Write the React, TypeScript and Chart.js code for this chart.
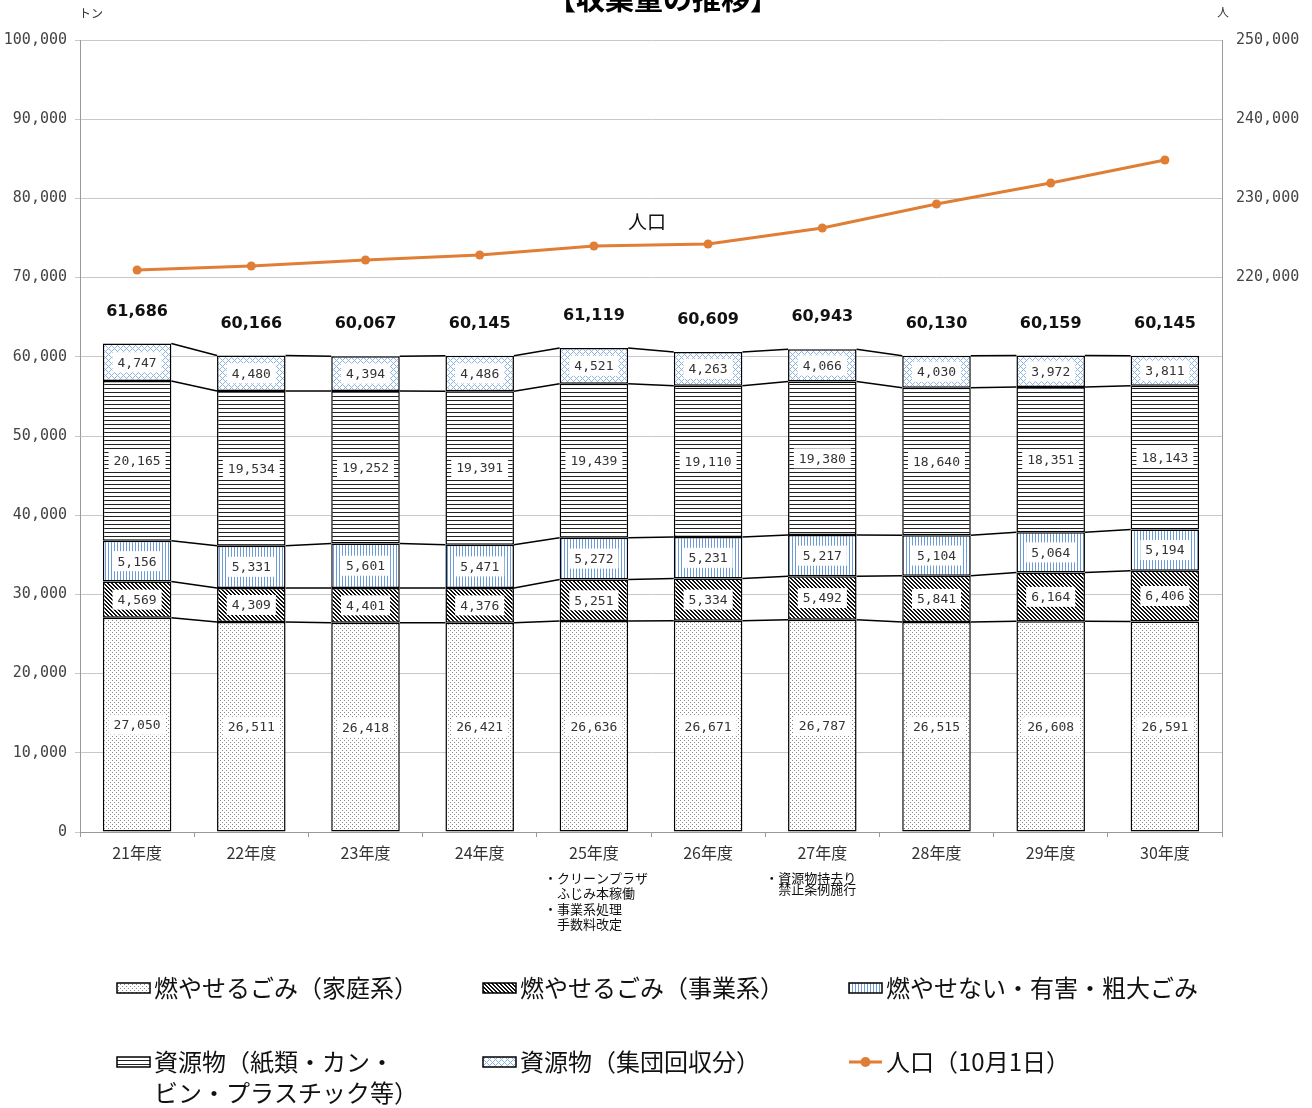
import React, { useEffect, useRef } from "react";
import { Chart, registerables } from "chart.js";

Chart.register(...registerables);

const categories = ["21年度", "22年度", "23年度", "24年度", "25年度", "26年度", "27年度", "28年度", "29年度", "30年度"];
const household = [27050, 26511, 26418, 26421, 26636, 26671, 26787, 26515, 26608, 26591];
const business = [4569, 4309, 4401, 4376, 5251, 5334, 5492, 5841, 6164, 6406];
const nonBurnable = [5156, 5331, 5601, 5471, 5272, 5231, 5217, 5104, 5064, 5194];
const recyclables = [20165, 19534, 19252, 19391, 19439, 19110, 19380, 18640, 18351, 18143];
const groupCollection = [4747, 4480, 4394, 4486, 4521, 4263, 4066, 4030, 3972, 3811];
const totals = [61686, 60166, 60067, 60145, 61119, 60609, 60943, 60130, 60159, 60145];
const population = [220960, 221470, 222220, 222850, 223990, 224240, 226260, 229290, 231940, 234850];

const seriesNames = [
  ["燃やせるごみ（家庭系）"],
  ["燃やせるごみ（事業系）"],
  ["燃やせない・有害・粗大ごみ"],
  ["資源物（紙類・カン・", "ビン・プラスチック等）"],
  ["資源物（集団回収分）"],
  ["人口（10月1日）"],
];
const seriesData = [household, business, nonBurnable, recyclables, groupCollection];
const patternKinds = ["dots", "diag", "vstripe", "hline", "cross"];

const annotations = [
  { index: 4, lines: ["・クリーンプラザ", "　ふじみ本稼働", "・事業系処理", "　手数料改定"], lineHeight: 15.5, dx: -50 },
  { index: 6, lines: ["・資源物持去り", "　禁止条例施行"], lineHeight: 11.5, dx: -57 },
];

const TITLE = "【収集量の推移】";
const ORANGE = "#E07E35";
const JP = '"Noto Sans CJK JP", "Noto Sans", sans-serif';
const MONO = '"DejaVu Sans Mono", monospace';

const fmt = (v: number) => Math.round(v).toLocaleString("en-US");

function makePattern(kind: string): CanvasPattern | string {
  const c = document.createElement("canvas");
  const x = c.getContext("2d");
  if (!x) return "#fff";
  const px = (a: number, b: number) => x.fillRect(a, b, 1, 1);
  if (kind === "dots") {
    c.width = 4; c.height = 4;
    x.fillStyle = "#fff"; x.fillRect(0, 0, 4, 4);
    x.fillStyle = "#8a8a8a";
    px(0, 0); px(2, 2);
  } else if (kind === "diag") {
    c.width = 4; c.height = 4;
    x.fillStyle = "#fff"; x.fillRect(0, 0, 4, 4);
    x.fillStyle = "#111";
    for (let yy = 0; yy < 4; yy++) for (let xx = 0; xx < 4; xx++) if ((xx - yy + 8) % 4 < 2) px(xx, yy);
  } else if (kind === "vstripe") {
    c.width = 3; c.height = 1;
    x.fillStyle = "#fff"; x.fillRect(0, 0, 3, 1);
    x.fillStyle = "#6D9BD6"; px(0, 0);
  } else if (kind === "hline") {
    c.width = 1; c.height = 4;
    x.fillStyle = "#fff"; x.fillRect(0, 0, 1, 4);
    x.fillStyle = "#222"; px(0, 0);
  } else {
    c.width = 6; c.height = 6;
    x.fillStyle = "#fff"; x.fillRect(0, 0, 6, 6);
    x.fillStyle = "#8FB3E3";
    for (let yy = 0; yy < 6; yy++) for (let xx = 0; xx < 6; xx++) if ((xx + yy) % 6 === 0 || (xx - yy + 6) % 6 === 0) px(xx, yy);
  }
  const p = x.createPattern(c, "repeat");
  return p || "#fff";
}

export default function App() {
  const ref = useRef<HTMLCanvasElement>(null);

  useEffect(() => {
    if (!ref.current) return;
    const patterns = patternKinds.map(makePattern);

    const overlay = {
      id: "overlay",
      afterDatasetsDraw(chart: any) {
        const ctx = chart.ctx as CanvasRenderingContext2D;
        ctx.save();
        // series lines
        ctx.strokeStyle = "#000";
        ctx.lineWidth = 1.5;
        for (let d = 0; d < seriesData.length; d++) {
          const meta = chart.getDatasetMeta(d);
          for (let i = 0; i < meta.data.length - 1; i++) {
            const a: any = meta.data[i];
            const b: any = meta.data[i + 1];
            ctx.beginPath();
            ctx.moveTo(a.x + a.width / 2, a.y);
            ctx.lineTo(b.x - b.width / 2, b.y);
            ctx.stroke();
          }
        }
        // value labels
        ctx.font = `13px ${MONO}`;
        ctx.textAlign = "center";
        ctx.textBaseline = "middle";
        for (let d = 0; d < seriesData.length; d++) {
          const meta = chart.getDatasetMeta(d);
          meta.data.forEach((el: any, i: number) => {
            const cy = (el.y + el.base) / 2;
            const t = fmt(seriesData[d][i]);
            const w = ctx.measureText(t).width + 10;
            ctx.fillStyle = "#fff";
            ctx.fillRect(el.x - w / 2, cy - 10, w, 20);
            ctx.fillStyle = "#333";
            ctx.fillText(t, el.x, cy + 1);
          });
        }
        // totals
        const top = chart.getDatasetMeta(seriesData.length - 1);
        ctx.font = `bold 16px "DejaVu Sans", sans-serif`;
        ctx.fillStyle = "#111";
        top.data.forEach((el: any, i: number) => {
          ctx.fillText(fmt(totals[i]), el.x, el.y - 32);
        });
        ctx.restore();
      },
      afterDraw(chart: any) {
        const ctx = chart.ctx as CanvasRenderingContext2D;
        const xs = chart.scales.x;
        const area = chart.chartArea;
        ctx.save();
        // title (cut off at top)
        ctx.font = `bold 29px ${JP}`;
        ctx.textAlign = "center";
        ctx.textBaseline = "alphabetic";
        ctx.fillStyle = "#000";
        ctx.fillText(TITLE, 663, 10);
        // unit labels
        ctx.font = `12px ${JP}`;
        ctx.fillStyle = "#333";
        ctx.textBaseline = "middle";
        ctx.textAlign = "left";
        ctx.fillText("トン", area.left - 1, 13);
        ctx.textAlign = "center";
        ctx.fillText("人", area.right + 1, 12);
        // population label
        ctx.font = `19px ${JP}`;
        ctx.fillStyle = "#111";
        const popMeta = chart.getDatasetMeta(seriesData.length);
        const p4: any = popMeta.data[4];
        const p5: any = popMeta.data[5];
        ctx.fillText("人口", (p4.x + p5.x) / 2 - 4, p4.y - 24);
        // annotations
        ctx.font = `13px ${JP}`;
        ctx.textAlign = "left";
        ctx.fillStyle = "#111";
        annotations.forEach((a) => {
          const cx = xs.getPixelForValue(a.index);
          a.lines.forEach((ln, k) => {
            ctx.fillText(ln, cx + a.dx, 878 + k * a.lineHeight);
          });
        });
        // legend
        const cols = [117, 483, 849];
        const rows = [988, 1062];
        ctx.font = `24px ${JP}`;
        ctx.textBaseline = "middle";
        seriesNames.forEach((lines, i) => {
          const bx = cols[i % 3];
          const by = rows[Math.floor(i / 3)];
          if (i < patternKinds.length) {
            ctx.fillStyle = patterns[i] as any;
            ctx.fillRect(bx, by - 5, 33, 10);
            ctx.strokeStyle = "#000";
            ctx.lineWidth = 1.5;
            ctx.strokeRect(bx, by - 5, 33, 10);
          } else {
            ctx.strokeStyle = ORANGE;
            ctx.lineWidth = 3;
            ctx.beginPath();
            ctx.moveTo(bx, by);
            ctx.lineTo(bx + 33, by);
            ctx.stroke();
            ctx.fillStyle = ORANGE;
            ctx.beginPath();
            ctx.arc(bx + 16.5, by, 5, 0, Math.PI * 2);
            ctx.fill();
          }
          ctx.fillStyle = "#111";
          lines.forEach((ln, k) => ctx.fillText(ln, bx + 37, by + k * 31));
        });
        ctx.restore();
      },
    };

    const barSets = seriesData.map((data, i) => ({
      type: "bar" as const,
      label: seriesNames[i].join(""),
      data,
      backgroundColor: patterns[i] as any,
      borderColor: "#000",
      borderWidth: 1.5,
      borderSkipped: false,
      barPercentage: 0.6,
      categoryPercentage: 1.0,
      stack: "s",
      yAxisID: "y",
      order: 2,
    }));

    const chart = new Chart(ref.current, {
      type: "bar",
      data: {
        labels: categories,
        datasets: [
          ...barSets,
          {
            type: "line" as const,
            label: seriesNames[5].join(""),
            data: population,
            borderColor: ORANGE,
            backgroundColor: ORANGE,
            borderWidth: 3,
            pointRadius: 4.5,
            pointBackgroundColor: ORANGE,
            pointBorderWidth: 0,
            yAxisID: "y2",
            order: 1,
            tension: 0,
          } as any,
        ],
      },
      options: {
        animation: false,
        responsive: false,
        devicePixelRatio: 1,
        layout: { padding: { top: 40, left: 0, right: 0, bottom: 0 } },
        plugins: {
          legend: { display: false },
          title: { display: false },
          tooltip: { enabled: false },
        },
        scales: {
          x: {
            stacked: true,
            grid: { display: true, drawOnChartArea: false, drawTicks: true, tickLength: 5, color: "#999", offset: true },
            border: { color: "#999", width: 1 },
            ticks: { color: "#333", font: { size: 16, family: JP }, padding: 6, maxRotation: 0 },
            afterFit: (s: any) => { s.height = 276; },
          },
          y: {
            stacked: true,
            min: 0,
            max: 100000,
            position: "left",
            ticks: { stepSize: 10000, color: "#444", font: { size: 15, family: MONO }, padding: 8, callback: (v: any) => fmt(Number(v)) },
            grid: { color: "#C8C8C8", tickLength: 5, lineWidth: 1 },
            border: { color: "#999", width: 1 },
            afterFit: (s: any) => { s.width = 80; },
          },
          y2: {
            min: 150000,
            max: 250000,
            position: "right",
            ticks: {
              stepSize: 10000,
              color: "#444",
              font: { size: 15, family: MONO },
              padding: 14,
              callback: (v: any) => (Number(v) >= 220000 ? fmt(Number(v)) : ""),
            },
            grid: { drawOnChartArea: false, drawTicks: false },
            border: { color: "#999", width: 1, display: true },
            afterFit: (s: any) => { s.width = 90; },
          },
        },
      },
      plugins: [overlay],
    } as any);

    return () => chart.destroy();
  }, []);

  return (
    <div style={{ position: "fixed", left: 0, top: 0, width: 1312, height: 1108, background: "#fff" }}>
      <canvas ref={ref} width={1312} height={1108} style={{ display: "block" }} />
    </div>
  );
}
